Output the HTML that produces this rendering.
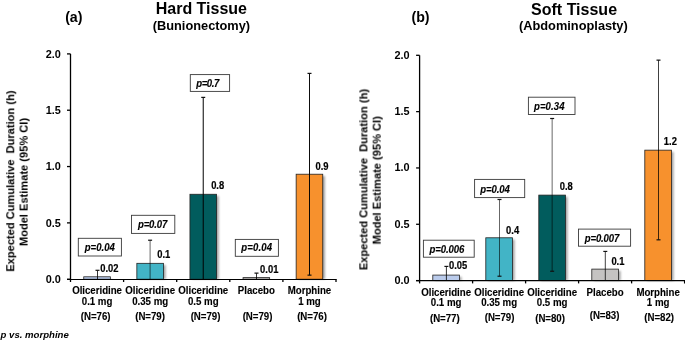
<!DOCTYPE html>
<html><head><meta charset="utf-8"><style>
html,body{margin:0;padding:0;background:#fff;width:685px;height:342px;overflow:hidden;}
svg{display:block;}
text{font-family:"Liberation Sans", sans-serif;fill:#000;will-change:transform;}
</style></head><body>
<svg width="685" height="342" viewBox="0 0 685 342">
<defs><filter id="blur" x="-30%" y="-30%" width="160%" height="160%"><feGaussianBlur stdDeviation="1.1"/></filter></defs>
<rect width="685" height="342" fill="#fff"/>
<g id="gfx">
<rect x="85.95" y="278.60" width="26.60" height="0.60" fill="#000" opacity="0.36" filter="url(#blur)"/>
<rect x="83.75" y="276.80" width="26.60" height="2.40" fill="#BACBEB" stroke="#222" stroke-width="0.8"/>
<rect x="139.05" y="265.12" width="26.60" height="14.08" fill="#000" opacity="0.36" filter="url(#blur)"/>
<rect x="136.85" y="263.32" width="26.60" height="15.88" fill="#42B4C6" stroke="#222" stroke-width="0.8"/>
<rect x="192.15" y="196.06" width="26.60" height="83.14" fill="#000" opacity="0.36" filter="url(#blur)"/>
<rect x="189.95" y="194.26" width="26.60" height="84.94" fill="#015C5D" stroke="#222" stroke-width="0.8"/>
<rect x="245.25" y="279.42" width="26.60" height="0.00" fill="#000" opacity="0.36" filter="url(#blur)"/>
<rect x="243.05" y="277.62" width="26.60" height="1.58" fill="#C5C3C2" stroke="#222" stroke-width="0.8"/>
<rect x="298.35" y="176.01" width="26.60" height="103.19" fill="#000" opacity="0.36" filter="url(#blur)"/>
<rect x="296.15" y="174.21" width="26.60" height="104.99" fill="#F7912D" stroke="#222" stroke-width="0.8"/>
<line x1="97.50" y1="270.30" x2="97.50" y2="279.20" stroke="#000" stroke-width="0.80"/>
<line x1="95.50" y1="270.30" x2="99.50" y2="270.30" stroke="#111" stroke-width="1.2"/>
<line x1="150.10" y1="240.22" x2="150.10" y2="279.20" stroke="#000" stroke-width="0.60"/>
<line x1="148.10" y1="240.22" x2="152.10" y2="240.22" stroke="#111" stroke-width="1.2"/>
<line x1="203.23" y1="97.38" x2="203.23" y2="279.20" stroke="#000" stroke-width="1.00"/>
<line x1="201.23" y1="97.38" x2="205.23" y2="97.38" stroke="#111" stroke-width="1.2"/>
<line x1="256.50" y1="273.12" x2="256.50" y2="279.20" stroke="#000" stroke-width="0.80"/>
<line x1="254.50" y1="273.12" x2="258.50" y2="273.12" stroke="#111" stroke-width="1.2"/>
<line x1="309.50" y1="73.39" x2="309.50" y2="275.14" stroke="#000" stroke-width="0.95"/>
<line x1="307.50" y1="73.39" x2="311.50" y2="73.39" stroke="#111" stroke-width="1.2"/>
<line x1="307.50" y1="275.14" x2="311.50" y2="275.14" stroke="#111" stroke-width="1.2"/>
<line x1="70.50" y1="53.90" x2="70.50" y2="282.00" stroke="#000" stroke-width="1.3"/>
<line x1="67.00" y1="279.50" x2="336.60" y2="279.50" stroke="#000" stroke-width="1.2"/>
<line x1="67.00" y1="279.20" x2="70.50" y2="279.20" stroke="#000" stroke-width="1.3"/>
<line x1="67.00" y1="222.88" x2="70.50" y2="222.88" stroke="#000" stroke-width="1.3"/>
<line x1="67.00" y1="166.55" x2="70.50" y2="166.55" stroke="#000" stroke-width="1.3"/>
<line x1="67.00" y1="110.22" x2="70.50" y2="110.22" stroke="#000" stroke-width="1.3"/>
<line x1="67.00" y1="53.90" x2="70.50" y2="53.90" stroke="#000" stroke-width="1.3"/>
<line x1="123.60" y1="279.20" x2="123.60" y2="282.00" stroke="#000" stroke-width="1.3"/>
<line x1="176.70" y1="279.20" x2="176.70" y2="282.00" stroke="#000" stroke-width="1.3"/>
<line x1="229.80" y1="279.20" x2="229.80" y2="282.00" stroke="#000" stroke-width="1.3"/>
<line x1="282.90" y1="279.20" x2="282.90" y2="282.00" stroke="#000" stroke-width="1.3"/>
<line x1="336.00" y1="279.20" x2="336.00" y2="282.00" stroke="#000" stroke-width="1.3"/>
<rect x="78.30" y="238.30" width="43.10" height="17.70" fill="#fff" stroke="#3a3a3a" stroke-width="0.9"/>
<rect x="131.50" y="215.30" width="43.30" height="18.10" fill="#fff" stroke="#3a3a3a" stroke-width="0.9"/>
<rect x="190.30" y="74.60" width="39.30" height="16.80" fill="#fff" stroke="#3a3a3a" stroke-width="0.9"/>
<rect x="235.30" y="239.40" width="43.10" height="16.90" fill="#fff" stroke="#3a3a3a" stroke-width="0.9"/>
<rect x="435.00" y="276.88" width="26.60" height="3.72" fill="#000" opacity="0.36" filter="url(#blur)"/>
<rect x="432.80" y="275.08" width="26.60" height="5.52" fill="#BACBEB" stroke="#222" stroke-width="0.8"/>
<rect x="488.00" y="239.59" width="26.60" height="41.01" fill="#000" opacity="0.36" filter="url(#blur)"/>
<rect x="485.80" y="237.79" width="26.60" height="42.81" fill="#42B4C6" stroke="#222" stroke-width="0.8"/>
<rect x="541.00" y="196.90" width="26.60" height="83.70" fill="#000" opacity="0.36" filter="url(#blur)"/>
<rect x="538.80" y="195.10" width="26.60" height="85.50" fill="#015C5D" stroke="#222" stroke-width="0.8"/>
<rect x="594.00" y="270.91" width="26.60" height="9.69" fill="#000" opacity="0.36" filter="url(#blur)"/>
<rect x="591.80" y="269.11" width="26.60" height="11.49" fill="#C5C3C2" stroke="#222" stroke-width="0.8"/>
<rect x="647.00" y="151.95" width="26.60" height="128.65" fill="#000" opacity="0.36" filter="url(#blur)"/>
<rect x="644.80" y="150.15" width="26.60" height="130.45" fill="#F7912D" stroke="#222" stroke-width="0.8"/>
<line x1="446.40" y1="266.41" x2="446.40" y2="280.60" stroke="#000" stroke-width="0.80"/>
<line x1="444.40" y1="266.41" x2="448.40" y2="266.41" stroke="#111" stroke-width="1.2"/>
<line x1="499.50" y1="199.49" x2="499.50" y2="276.21" stroke="#000" stroke-width="0.60"/>
<line x1="497.50" y1="199.49" x2="501.50" y2="199.49" stroke="#111" stroke-width="1.2"/>
<line x1="497.50" y1="276.21" x2="501.50" y2="276.21" stroke="#111" stroke-width="1.2"/>
<line x1="552.15" y1="118.50" x2="552.15" y2="271.25" stroke="#000" stroke-width="0.60"/>
<line x1="550.15" y1="118.50" x2="554.15" y2="118.50" stroke="#111" stroke-width="1.2"/>
<line x1="550.15" y1="271.25" x2="554.15" y2="271.25" stroke="#111" stroke-width="1.2"/>
<line x1="605.30" y1="251.42" x2="605.30" y2="280.60" stroke="#000" stroke-width="0.75"/>
<line x1="603.30" y1="251.42" x2="607.30" y2="251.42" stroke="#111" stroke-width="1.2"/>
<line x1="658.50" y1="60.14" x2="658.50" y2="239.82" stroke="#000" stroke-width="0.75"/>
<line x1="656.50" y1="60.14" x2="660.50" y2="60.14" stroke="#111" stroke-width="1.2"/>
<line x1="656.50" y1="239.82" x2="660.50" y2="239.82" stroke="#111" stroke-width="1.2"/>
<line x1="419.60" y1="55.30" x2="419.60" y2="283.40" stroke="#000" stroke-width="1.3"/>
<line x1="416.10" y1="280.55" x2="685.20" y2="280.55" stroke="#000" stroke-width="1.2"/>
<line x1="416.10" y1="280.60" x2="419.60" y2="280.60" stroke="#000" stroke-width="1.3"/>
<line x1="416.10" y1="224.28" x2="419.60" y2="224.28" stroke="#000" stroke-width="1.3"/>
<line x1="416.10" y1="167.95" x2="419.60" y2="167.95" stroke="#000" stroke-width="1.3"/>
<line x1="416.10" y1="111.62" x2="419.60" y2="111.62" stroke="#000" stroke-width="1.3"/>
<line x1="416.10" y1="55.30" x2="419.60" y2="55.30" stroke="#000" stroke-width="1.3"/>
<line x1="472.60" y1="280.60" x2="472.60" y2="283.40" stroke="#000" stroke-width="1.3"/>
<line x1="525.60" y1="280.60" x2="525.60" y2="283.40" stroke="#000" stroke-width="1.3"/>
<line x1="578.60" y1="280.60" x2="578.60" y2="283.40" stroke="#000" stroke-width="1.3"/>
<line x1="631.60" y1="280.60" x2="631.60" y2="283.40" stroke="#000" stroke-width="1.3"/>
<line x1="684.60" y1="280.60" x2="684.60" y2="283.40" stroke="#000" stroke-width="1.3"/>
<rect x="423.40" y="240.20" width="50.80" height="17.00" fill="#fff" stroke="#3a3a3a" stroke-width="0.9"/>
<rect x="474.60" y="179.40" width="50.10" height="18.20" fill="#fff" stroke="#3a3a3a" stroke-width="0.9"/>
<rect x="528.40" y="97.20" width="46.60" height="17.30" fill="#fff" stroke="#3a3a3a" stroke-width="0.9"/>
<rect x="578.50" y="229.10" width="52.10" height="17.10" fill="#fff" stroke="#3a3a3a" stroke-width="0.9"/>
</g>
<g id="txt">
<text id="title_l" font-size="16.00" font-weight="bold" text-anchor="middle" x="201.36" y="14.25">Hard Tissue</text>
<text id="sub_l" font-size="12.80" font-weight="bold" text-anchor="middle" x="201.43" y="29.50">(Bunionectomy)</text>
<text id="a" font-size="14.20" font-weight="bold" text-anchor="middle" x="73.81" y="21.60">(a)</text>
<text id="title_r" font-size="16.00" font-weight="bold" text-anchor="middle" x="574.07" y="14.75">Soft Tissue</text>
<text id="sub_r" font-size="12.80" font-weight="bold" text-anchor="middle" x="573.38" y="30.49">(Abdominoplasty)</text>
<text id="b" font-size="14.20" font-weight="bold" text-anchor="middle" x="420.50" y="21.60">(b)</text>
<text id="foot" font-size="9.60" font-weight="bold" font-style="italic" x="0.57" y="338.09">p vs. morphine</text>
<text id="yl1" font-size="11.10" font-weight="bold" text-anchor="middle" transform="translate(14.24,181.19) rotate(-90)">Expected Cumulative  Duration (h)</text>
<text id="yl2" font-size="11.10" font-weight="bold" text-anchor="middle" transform="translate(27.59,182.05) rotate(-90)">Model Estimate (95% CI)</text>
<text id="yr1" font-size="11.10" font-weight="bold" text-anchor="middle" transform="translate(367.39,179.57) rotate(-90)">Expected Cumulative  Duration (h)</text>
<text id="yr2" font-size="11.10" font-weight="bold" text-anchor="middle" transform="translate(380.68,180.34) rotate(-90)">Model Estimate (95% CI)</text>
<text id="tkL0" font-size="10.90" font-weight="bold" text-anchor="end" x="60.77" y="283.01">0.0</text>
<text id="tkL1" font-size="10.90" font-weight="bold" text-anchor="end" x="60.77" y="226.68">0.5</text>
<text id="tkL2" font-size="10.90" font-weight="bold" text-anchor="end" x="60.77" y="170.36">1.0</text>
<text id="tkL3" font-size="10.90" font-weight="bold" text-anchor="end" x="60.77" y="114.04">1.5</text>
<text id="tkL4" font-size="10.90" font-weight="bold" text-anchor="end" x="60.77" y="57.71">2.0</text>
<text id="tkR0" font-size="10.90" font-weight="bold" text-anchor="end" x="409.61" y="284.10">0.0</text>
<text id="tkR1" font-size="10.90" font-weight="bold" text-anchor="end" x="409.61" y="227.77">0.5</text>
<text id="tkR2" font-size="10.90" font-weight="bold" text-anchor="end" x="409.61" y="171.44">1.0</text>
<text id="tkR3" font-size="10.90" font-weight="bold" text-anchor="end" x="409.61" y="115.12">1.5</text>
<text id="tkR4" font-size="10.90" font-weight="bold" text-anchor="end" x="409.61" y="58.79">2.0</text>
<text id="pL0" font-size="9.60" font-weight="bold" font-style="italic" textLength="30.08" lengthAdjust="spacing" stroke="#000" stroke-width="0.12" transform="translate(84.73,250.97) scale(1,1.050)">p=0.04</text>
<text id="pL1" font-size="9.60" font-weight="bold" font-style="italic" textLength="29.36" lengthAdjust="spacing" stroke="#000" stroke-width="0.12" transform="translate(137.93,228.18) scale(1,1.050)">p=0.07</text>
<text id="pL2" font-size="9.60" font-weight="bold" font-style="italic" textLength="22.92" lengthAdjust="spacing" stroke="#000" stroke-width="0.12" transform="translate(196.33,87.42) scale(1,1.050)">p=0.7</text>
<text id="pL3" font-size="9.60" font-weight="bold" font-style="italic" textLength="30.88" lengthAdjust="spacing" stroke="#000" stroke-width="0.12" transform="translate(241.23,250.97) scale(1,1.050)">p=0.04</text>
<text id="pR0" font-size="9.60" font-weight="bold" font-style="italic" textLength="34.98" lengthAdjust="spacing" stroke="#000" stroke-width="0.12" transform="translate(429.38,253.17) scale(1,1.050)">p=0.006</text>
<text id="pR1" font-size="9.60" font-weight="bold" font-style="italic" textLength="29.80" lengthAdjust="spacing" stroke="#000" stroke-width="0.12" transform="translate(480.15,193.03) scale(1,1.050)">p=0.04</text>
<text id="pR2" font-size="9.60" font-weight="bold" font-style="italic" textLength="30.52" lengthAdjust="spacing" stroke="#000" stroke-width="0.12" transform="translate(533.95,110.09) scale(1,1.050)">p=0.34</text>
<text id="pR3" font-size="9.60" font-weight="bold" font-style="italic" textLength="34.54" lengthAdjust="spacing" stroke="#000" stroke-width="0.12" transform="translate(584.78,242.01) scale(1,1.050)">p=0.007</text>
<text id="vL0" font-size="9.40" font-weight="bold" stroke="#000" stroke-width="0.18" transform="translate(100.29,271.84) scale(1,1.070)">0.02</text>
<text id="vL1" font-size="9.40" font-weight="bold" stroke="#000" stroke-width="0.18" transform="translate(157.21,258.17) scale(1,1.070)">0.1</text>
<text id="vL2" font-size="9.40" font-weight="bold" stroke="#000" stroke-width="0.18" transform="translate(211.14,189.42) scale(1,1.070)">0.8</text>
<text id="vL3" font-size="9.40" font-weight="bold" stroke="#000" stroke-width="0.18" transform="translate(260.12,273.04) scale(1,1.070)">0.01</text>
<text id="vL4" font-size="9.40" font-weight="bold" stroke="#000" stroke-width="0.18" transform="translate(315.47,169.73) scale(1,1.070)">0.9</text>
<text id="vR0" font-size="9.40" font-weight="bold" stroke="#000" stroke-width="0.18" transform="translate(448.95,269.42) scale(1,1.070)">0.05</text>
<text id="vR1" font-size="9.40" font-weight="bold" stroke="#000" stroke-width="0.18" transform="translate(506.09,233.56) scale(1,1.070)">0.4</text>
<text id="vR2" font-size="9.40" font-weight="bold" stroke="#000" stroke-width="0.18" transform="translate(559.66,190.20) scale(1,1.070)">0.8</text>
<text id="vR3" font-size="9.40" font-weight="bold" stroke="#000" stroke-width="0.18" transform="translate(611.40,264.91) scale(1,1.070)">0.1</text>
<text id="vR4" font-size="9.40" font-weight="bold" stroke="#000" stroke-width="0.18" transform="translate(663.84,145.02) scale(1,1.070)">1.2</text>
<text id="cL00" font-size="9.70" font-weight="bold" text-anchor="middle" letter-spacing="-0.020" stroke="#000" stroke-width="0.12" transform="translate(97.05,293.87) scale(1,1.040)">Oliceridine</text>
<text id="cL01" font-size="9.70" font-weight="bold" text-anchor="middle" letter-spacing="-0.020" stroke="#000" stroke-width="0.12" transform="translate(97.05,304.70) scale(1,1.040)">0.1 mg</text>
<text id="nL0" font-size="9.70" font-weight="bold" text-anchor="middle" letter-spacing="-0.020" stroke="#000" stroke-width="0.12" transform="translate(95.65,320.00) scale(1,1.040)">(N=76)</text>
<text id="cL10" font-size="9.70" font-weight="bold" text-anchor="middle" letter-spacing="-0.020" stroke="#000" stroke-width="0.12" transform="translate(150.15,293.87) scale(1,1.040)">Oliceridine</text>
<text id="cL11" font-size="9.70" font-weight="bold" text-anchor="middle" letter-spacing="-0.020" stroke="#000" stroke-width="0.12" transform="translate(150.15,304.70) scale(1,1.040)">0.35 mg</text>
<text id="nL1" font-size="9.70" font-weight="bold" text-anchor="middle" letter-spacing="-0.020" stroke="#000" stroke-width="0.12" transform="translate(150.05,320.10) scale(1,1.040)">(N=79)</text>
<text id="cL20" font-size="9.70" font-weight="bold" text-anchor="middle" letter-spacing="-0.020" stroke="#000" stroke-width="0.12" transform="translate(203.25,293.87) scale(1,1.040)">Oliceridine</text>
<text id="cL21" font-size="9.70" font-weight="bold" text-anchor="middle" letter-spacing="-0.020" stroke="#000" stroke-width="0.12" transform="translate(203.25,304.70) scale(1,1.040)">0.5 mg</text>
<text id="nL2" font-size="9.70" font-weight="bold" text-anchor="middle" letter-spacing="-0.020" stroke="#000" stroke-width="0.12" transform="translate(205.50,320.20) scale(1,1.040)">(N=79)</text>
<text id="cL30" font-size="9.70" font-weight="bold" text-anchor="middle" letter-spacing="-0.020" stroke="#000" stroke-width="0.12" transform="translate(256.35,293.87) scale(1,1.040)">Placebo</text>
<text id="nL3" font-size="9.70" font-weight="bold" text-anchor="middle" letter-spacing="-0.020" stroke="#000" stroke-width="0.12" transform="translate(257.50,320.20) scale(1,1.040)">(N=79)</text>
<text id="cL40" font-size="9.70" font-weight="bold" text-anchor="middle" letter-spacing="-0.020" stroke="#000" stroke-width="0.12" transform="translate(309.45,293.87) scale(1,1.040)">Morphine</text>
<text id="cL41" font-size="9.70" font-weight="bold" text-anchor="middle" letter-spacing="-0.020" stroke="#000" stroke-width="0.12" transform="translate(309.45,304.70) scale(1,1.040)">1 mg</text>
<text id="nL4" font-size="9.70" font-weight="bold" text-anchor="middle" letter-spacing="-0.020" stroke="#000" stroke-width="0.12" transform="translate(312.00,320.30) scale(1,1.040)">(N=76)</text>
<text id="cR00" font-size="9.70" font-weight="bold" text-anchor="middle" letter-spacing="-0.020" stroke="#000" stroke-width="0.12" transform="translate(446.10,295.55) scale(1,1.040)">Oliceridine</text>
<text id="cR01" font-size="9.70" font-weight="bold" text-anchor="middle" letter-spacing="-0.020" stroke="#000" stroke-width="0.12" transform="translate(446.10,306.41) scale(1,1.040)">0.1 mg</text>
<text id="nR0" font-size="9.70" font-weight="bold" text-anchor="middle" letter-spacing="-0.020" stroke="#000" stroke-width="0.12" transform="translate(444.80,321.70) scale(1,1.040)">(N=77)</text>
<text id="cR10" font-size="9.70" font-weight="bold" text-anchor="middle" letter-spacing="-0.020" stroke="#000" stroke-width="0.12" transform="translate(499.10,295.55) scale(1,1.040)">Oliceridine</text>
<text id="cR11" font-size="9.70" font-weight="bold" text-anchor="middle" letter-spacing="-0.020" stroke="#000" stroke-width="0.12" transform="translate(499.10,306.41) scale(1,1.040)">0.35 mg</text>
<text id="nR1" font-size="9.70" font-weight="bold" text-anchor="middle" letter-spacing="-0.020" stroke="#000" stroke-width="0.12" transform="translate(499.55,320.70) scale(1,1.040)">(N=79)</text>
<text id="cR20" font-size="9.70" font-weight="bold" text-anchor="middle" letter-spacing="-0.020" stroke="#000" stroke-width="0.12" transform="translate(552.10,295.55) scale(1,1.040)">Oliceridine</text>
<text id="cR21" font-size="9.70" font-weight="bold" text-anchor="middle" letter-spacing="-0.020" stroke="#000" stroke-width="0.12" transform="translate(552.10,306.41) scale(1,1.040)">0.5 mg</text>
<text id="nR2" font-size="9.70" font-weight="bold" text-anchor="middle" letter-spacing="-0.020" stroke="#000" stroke-width="0.12" transform="translate(550.05,322.40) scale(1,1.040)">(N=80)</text>
<text id="cR30" font-size="9.70" font-weight="bold" text-anchor="middle" letter-spacing="-0.020" stroke="#000" stroke-width="0.12" transform="translate(605.10,295.55) scale(1,1.040)">Placebo</text>
<text id="nR3" font-size="9.70" font-weight="bold" text-anchor="middle" letter-spacing="-0.020" stroke="#000" stroke-width="0.12" transform="translate(604.55,319.30) scale(1,1.040)">(N=83)</text>
<text id="cR40" font-size="9.70" font-weight="bold" text-anchor="middle" letter-spacing="-0.020" stroke="#000" stroke-width="0.12" transform="translate(658.10,295.55) scale(1,1.040)">Morphine</text>
<text id="cR41" font-size="9.70" font-weight="bold" text-anchor="middle" letter-spacing="-0.020" stroke="#000" stroke-width="0.12" transform="translate(658.10,306.41) scale(1,1.040)">1 mg</text>
<text id="nR4" font-size="9.70" font-weight="bold" text-anchor="middle" letter-spacing="-0.020" stroke="#000" stroke-width="0.12" transform="translate(659.10,321.00) scale(1,1.040)">(N=82)</text>
</g>
</svg>
</body></html>
